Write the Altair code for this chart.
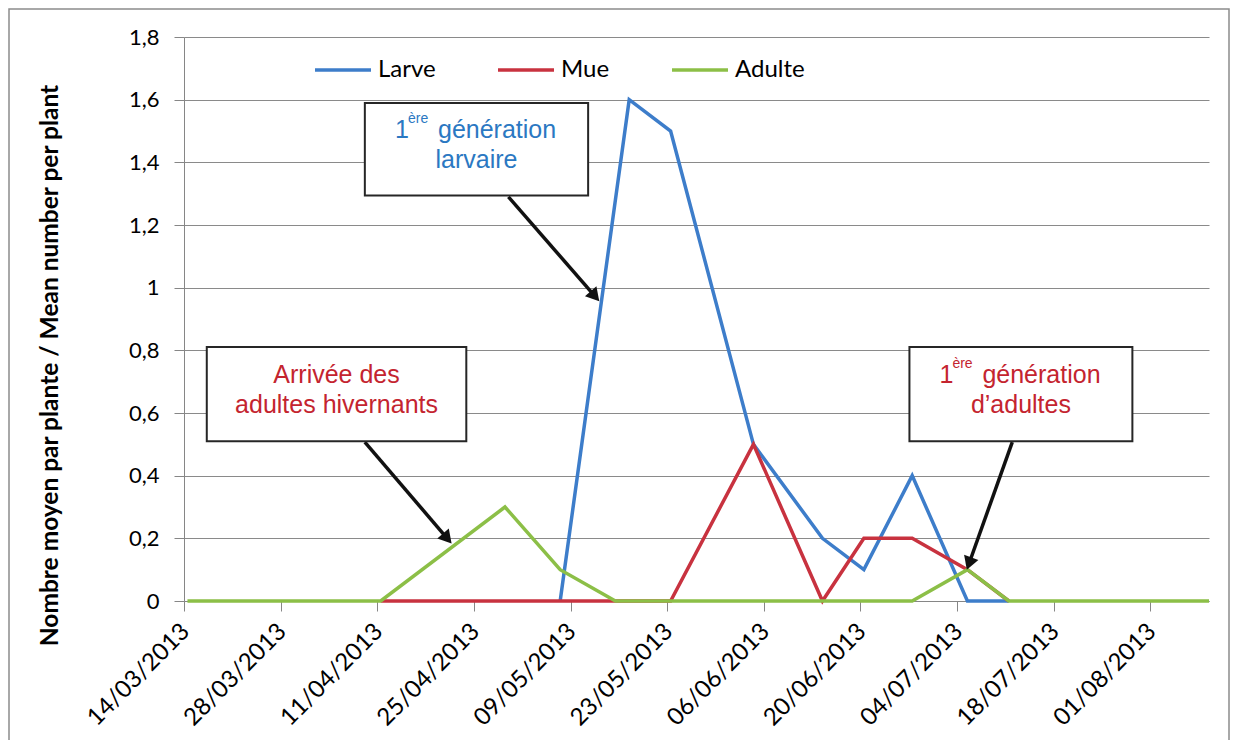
import math
import altair as alt
import pandas as pd

# ---------------- data ----------------
larve_dates = ["2013-05-07", "2013-05-17", "2013-05-23", "2013-06-04", "2013-06-14",
               "2013-06-20", "2013-06-27", "2013-07-05", "2013-07-11"]
larve_values = [0, 1.6, 1.5, 0.5, 0.2, 0.1, 0.4, 0, 0]

mue_dates = ["2013-04-11", "2013-04-29", "2013-05-07", "2013-05-15", "2013-05-23",
             "2013-06-04", "2013-06-14", "2013-06-20", "2013-06-27", "2013-07-05", "2013-07-11"]
mue_values = [0, 0, 0, 0, 0, 0.5, 0, 0.2, 0.2, 0.1, 0]

adulte_dates = ["2013-03-14", "2013-03-28", "2013-04-11", "2013-04-29", "2013-05-07",
                "2013-05-15", "2013-05-23", "2013-06-04", "2013-06-14", "2013-06-20",
                "2013-06-27", "2013-07-05", "2013-07-11", "2013-07-18", "2013-08-01", "2013-08-09"]
adulte_values = [0, 0, 0, 0.3, 0.1, 0, 0, 0, 0, 0, 0, 0.1, 0, 0, 0, 0]

series_names = ["Larve", "Mue", "Adulte"]
series_colors = ["#3D7DCA", "#C8323F", "#8CBF47"]

x_tick_dates = ["2013-03-14", "2013-03-28", "2013-04-11", "2013-04-25", "2013-05-09",
                "2013-05-23", "2013-06-06", "2013-06-20", "2013-07-04", "2013-07-18", "2013-08-01"]
y_ticks = [0, 0.2, 0.4, 0.6, 0.8, 1.0, 1.2, 1.4, 1.6, 1.8]
y_title = "Nombre moyen par plante / Mean number per plant"

# annotation boxes: (day from 14/03 start, day end), (value bottom, value top)
box_days = [(26.2, 58.55), (3.3, 40.9), (105.1, 137.4)]
box_vals = [(1.294, 1.589), (0.510, 0.811), (0.510, 0.811)]
# arrows: start (day, value) -> tip (day, value)
arrow_start = [(47.0, 1.290), (26.2, 0.507), (120.0, 0.507)]
arrow_tip = [(60.0, 0.961), (38.6, 0.188), (113.5, 0.105)]

BLUE_TXT = "#2B78C2"
RED_TXT = "#C4242F"

# ---------------- helpers ----------------
DAY_MS = 86400000
HALF = DAY_MS // 2
W, H = 1025, 564
DOM_DAYS = 148.5
PX_DAY = W / DOM_DAYS
PX_UNIT = H / 1.8


def ms(d):
    return int(pd.Timestamp(d).value // 10**6)


start_ms = ms("2013-03-14")
end_ms = start_ms + int(DOM_DAYS * DAY_MS)


def day_ms(day):
    return start_ms + int(day * DAY_MS)


xscale = alt.Scale(type="utc", domain=[start_ms, end_ms], nice=False)
yscale = alt.Scale(domain=[0, 1.8], nice=False, zero=True)

xaxis = alt.Axis(values=[ms(d) for d in x_tick_dates],
                 labelExpr="utcFormat(datum.value, '%d/%m/%Y')",
                 labelAngle=-45, labelAlign="right", labelBaseline="top", labelPadding=8,
                 labelOffset=-7,
                 labelFont="Lato", labelFontSize=24, labelColor="black",
                 tickSize=10, tickColor="#868686", domainColor="#868686",
                 grid=False, title=None, labelOverlap=False)
yaxis = alt.Axis(values=y_ticks, labelExpr="replace(format(datum.value, '.1~f'), '.', ',')",
                 labelFont="Lato", labelFontSize=22, labelColor="black", labelPadding=15,
                 tickSize=10, tickColor="#868686", domainColor="#868686",
                 grid=True, gridColor="#8a8a8a", gridWidth=1,
                 title=y_title, titleFont="Lato", titleFontSize=24.5, titleFontWeight="bold",
                 titleColor="black", titleX=-134, titleY=328, titleAngle=270,
                 titleAlign="center", titleBaseline="middle")

X = alt.X("t:T", scale=xscale, axis=xaxis, title=None)
Y = alt.Y("v:Q", scale=yscale, axis=yaxis, title=y_title)

legend = alt.Legend(title=None, orient="none", legendX=129, legendY=3, direction="horizontal",
                    symbolType="stroke", symbolStrokeWidth=3.5, symbolSize=3136,
                    labelFont="Lato", labelFontSize=24, labelColor="black",
                    labelOffset=5, columnPadding=55, padding=0)
C = alt.Color("serie:N", scale=alt.Scale(domain=series_names, range=series_colors), legend=legend)


def line_layer(name, dates, values):
    df = pd.DataFrame({"t": [ms(d) + HALF for d in dates], "v": values, "serie": name})
    return alt.Chart(df).mark_line(strokeWidth=3.5).encode(x=X, y=Y, color=C)


# border of the whole figure
border = alt.Chart(pd.DataFrame({"k": [0]})).mark_rect(
    fill="white", fillOpacity=0, stroke="#8c8c8c", strokeWidth=1.5
).encode(x=alt.value(-175), x2=alt.value(1045), y=alt.value(-28), y2=alt.value(800))

# boxes
box_df = pd.DataFrame({
    "t": [day_ms(a) for a, b in box_days],
    "t2": [day_ms(b) for a, b in box_days],
    "v": [a for a, b in box_vals],
    "v2": [b for a, b in box_vals],
})
boxes = alt.Chart(box_df).mark_rect(fill="white", stroke="#262626", strokeWidth=2).encode(
    x=X, x2="t2:T", y=Y, y2="v2:Q")

# arrows
rule_rows, head_rows = [], []
for (sd, sv), (td, tv) in zip(arrow_start, arrow_tip):
    dx = (td - sd) * PX_DAY
    dy = -(tv - sv) * PX_UNIT
    L = math.hypot(dx, dy)
    ux, uy = dx / L, dy / L
    back = 7.0
    cd = td - ux * back / PX_DAY
    cv = tv + uy * back / PX_UNIT
    ang = math.degrees(math.atan2(ux, -uy)) % 360
    rule_rows.append({"t": day_ms(sd), "v": sv, "t2": day_ms(cd), "v2": cv})
    head_rows.append({"t": day_ms(cd), "v": cv, "a": ang})
rules = alt.Chart(pd.DataFrame(rule_rows)).mark_rule(color="#111111", strokeWidth=3.5).encode(
    x=X, y=Y, x2="t2:T", y2="v2:Q")
heads = alt.Chart(pd.DataFrame(head_rows)).mark_point(
    shape="triangle", filled=True, size=230, color="#111111", opacity=1).encode(
    x=X, y=Y, angle=alt.Angle("a:Q", scale=None))

# texts
c1 = (box_days[0][0] + box_days[0][1]) / 2
c2 = (box_days[1][0] + box_days[1][1]) / 2
c3 = (box_days[2][0] + box_days[2][1]) / 2
sup_rise = 15 / PX_UNIT

big_left = []
big_center = []
small_left = []
for center, b1, b2, l2, col in [(c1, 1.478, 1.382, "larvaire", BLUE_TXT),
                                (c3, 0.696, 0.600, "d\u2019adultes", RED_TXT)]:
    big_left.append({"t": day_ms(center - 81.5 / PX_DAY), "v": b1, "txt": "1", "col": col})
    small_left.append({"t": day_ms(center - 68.5 / PX_DAY), "v": b1 + sup_rise, "txt": "\u00e8re", "col": col})
    big_left.append({"t": day_ms(center - 38.5 / PX_DAY), "v": b1, "txt": "g\u00e9n\u00e9ration", "col": col})
    big_center.append({"t": day_ms(center), "v": b2, "txt": l2, "col": col})
big_center.append({"t": day_ms(c2), "v": 0.696, "txt": "Arriv\u00e9e des", "col": RED_TXT})
big_center.append({"t": day_ms(c2), "v": 0.600, "txt": "adultes hivernants", "col": RED_TXT})

TCOL = alt.Color("col:N", scale=None)
t_big_left = alt.Chart(pd.DataFrame(big_left)).mark_text(
    font="Liberation Sans", fontSize=25, align="left", baseline="alphabetic").encode(
    x=X, y=Y, text="txt:N", color=TCOL)
t_big_center = alt.Chart(pd.DataFrame(big_center)).mark_text(
    font="Liberation Sans", fontSize=25, align="center", baseline="alphabetic").encode(
    x=X, y=Y, text="txt:N", color=TCOL)
t_small = alt.Chart(pd.DataFrame(small_left)).mark_text(
    font="Liberation Sans", fontSize=14, align="left", baseline="alphabetic").encode(
    x=X, y=Y, text="txt:N", color=TCOL)

chart = alt.layer(
    border,
    line_layer("Larve", larve_dates, larve_values),
    line_layer("Mue", mue_dates, mue_values),
    line_layer("Adulte", adulte_dates, adulte_values),
    rules, heads, boxes, t_big_left, t_big_center, t_small,
).properties(
    width=W, height=H,
    padding={"left": 176, "top": 29, "right": 22, "bottom": 139},
    autosize=alt.AutoSizeParams(type="none"),
    background="white",
).configure_view(stroke=None)

chart.save("out.html", embed_options={"renderer": "svg", "actions": False})
